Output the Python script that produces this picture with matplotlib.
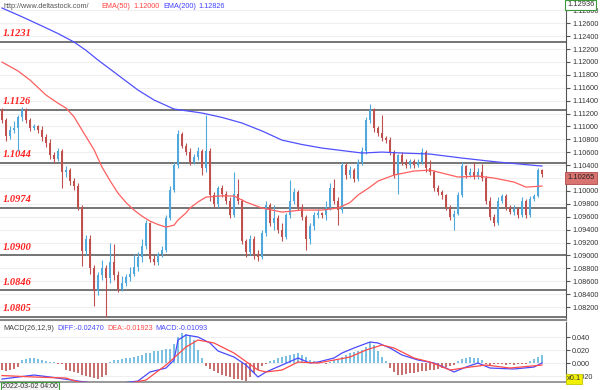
import matplotlib
matplotlib.use("Agg")
import matplotlib.pyplot as plt
import numpy as np

plt.rcParams["font.family"] = ["Liberation Sans", "DejaVu Sans"]

# EURUSD-ish 1H candles (open = previous close)
first_open = 1.1125
closes = [
    1.1110, 1.1085, 1.1095, 1.1098, 1.1115, 1.1125, 1.1110, 1.1098, 1.1100, 1.1095,
    1.1083, 1.1075, 1.1055, 1.1050, 1.1062, 1.1030, 1.1032, 1.1015, 1.1008, 1.0975,
    1.0907, 1.0925, 1.0880, 1.0845, 1.0870, 1.0880, 1.0865, 1.0890, 1.0870, 1.0848,
    1.0858, 1.0866, 1.0872, 1.0882, 1.0897, 1.0915, 1.0950, 1.0895, 1.0890, 1.0902,
    1.0908, 1.0958, 1.1002, 1.1040, 1.1088, 1.1070, 1.1060, 1.1045, 1.1052, 1.1062,
    1.1035, 1.1062, 1.0993, 1.0980, 1.1005, 1.0995, 1.0985, 1.0963, 1.0995, 1.0985,
    1.0922, 1.0905, 1.0925, 1.0900, 1.0898, 1.0935, 1.0978, 1.0950, 1.0958, 1.0940,
    1.0928, 1.0962, 1.0985, 1.0998, 1.0975, 1.0960, 1.0925, 1.0945, 1.0962, 1.0966,
    1.0963, 1.0975, 1.1005, 1.0985, 1.0970, 1.1040, 1.1025, 1.1032, 1.1018, 1.1045,
    1.1062, 1.1110, 1.1126, 1.1097, 1.1090, 1.1082, 1.1079, 1.1060, 1.1025, 1.1055,
    1.1045, 1.1040, 1.1046, 1.1040, 1.1045, 1.1060, 1.1035, 1.1030, 1.1005, 1.0998,
    1.0993, 1.0975, 1.0960, 1.0965, 1.0993, 1.1038, 1.1025, 1.1030, 1.1022, 1.1030,
    1.1020, 1.0985, 1.0960, 1.0950, 1.0985, 1.0992, 1.0975, 1.0968, 1.0972, 1.0963,
    1.0985, 1.0962, 1.0987, 1.0992, 1.1032, 1.10265,
]
highs = [
    1.1128, 1.1113, 1.1100, 1.1108, 1.1118, 1.1130, 1.1128, 1.1113, 1.1104, 1.1103,
    1.1100, 1.1088, 1.1080, 1.1060, 1.1066, 1.1065, 1.1038, 1.1035, 1.1020, 1.1012,
    1.0978, 1.0932, 1.0932, 1.0885, 1.0875, 1.0893, 1.0886, 1.0920, 1.0918, 1.0876,
    1.0868, 1.0872, 1.0882, 1.0902, 1.0905, 1.0925, 1.0955, 1.0952, 1.0900, 1.0906,
    1.0915, 1.0962, 1.1008, 1.1045, 1.1095, 1.1092, 1.1075, 1.1066, 1.1058, 1.1068,
    1.1065, 1.1118, 1.1066, 1.0998, 1.1008, 1.1010, 1.1000, 1.0990, 1.1030, 1.1018,
    1.0988, 1.0926, 1.0932, 1.0930, 1.0908, 1.0940, 1.0985, 1.0982, 1.0978, 1.0962,
    1.0950, 1.0966, 1.1017, 1.1005, 1.1002, 1.0980, 1.0963, 1.0950, 1.0968, 1.0972,
    1.0968, 1.0985, 1.1012, 1.1018, 1.0990, 1.1045, 1.1044, 1.1038, 1.1036, 1.1050,
    1.1068, 1.1115, 1.1135, 1.1128, 1.1100, 1.1117, 1.1085, 1.1083, 1.1063, 1.1058,
    1.1060, 1.1050, 1.1050, 1.1049, 1.1050, 1.1066, 1.1063, 1.1048, 1.1033, 1.1010,
    1.1002, 1.0996, 1.0978, 1.0970, 1.0998, 1.1045, 1.1040, 1.1035, 1.1045, 1.1035,
    1.1042, 1.1023, 1.0990, 1.0965, 1.0990, 1.0996, 1.0995, 1.0978, 1.0978, 1.0975,
    1.0990, 1.0988, 1.0992, 1.0996, 1.1036, 1.1034,
]
lows = [
    1.1106, 1.1078, 1.1080, 1.1090, 1.1062, 1.1108, 1.1105, 1.1093, 1.1094, 1.1090,
    1.1078, 1.1068, 1.1050, 1.1043, 1.1047, 1.1005, 1.1022, 1.1010, 1.1002, 1.0970,
    1.0883, 1.0900, 1.0872, 1.0822, 1.0838, 1.0862, 1.0805, 1.0858, 1.0862, 1.0844,
    1.0845, 1.0852, 1.0860, 1.0868, 1.0876, 1.0890, 1.0910, 1.0890, 1.0885, 1.0886,
    1.0898, 1.0905, 1.0955, 1.0998, 1.1036, 1.1066, 1.1055, 1.1040, 1.1042, 1.1048,
    1.1025, 1.1030, 1.0985, 1.0975, 1.0975, 1.0990, 1.0980, 1.0958, 1.0960, 1.0980,
    1.0918, 1.0898, 1.0900, 1.0895, 1.0892, 1.0895, 1.0930, 1.0945, 1.0940, 1.0935,
    1.0922, 1.0925, 1.0958, 1.0980, 1.0970, 1.0955, 1.0908, 1.0918, 1.0940, 1.0958,
    1.0958, 1.0955, 1.0970, 1.0980, 1.0948, 1.0966, 1.1018, 1.1020, 1.1014, 1.1015,
    1.1040, 1.1058, 1.1105, 1.1092, 1.1085, 1.1078, 1.1075, 1.1055, 1.1020, 1.0995,
    1.1040, 1.1035, 1.1036, 1.1036, 1.1037, 1.1042, 1.1030, 1.1025, 1.1000, 1.0994,
    1.0988, 1.0970, 1.0955, 1.0940, 1.0962, 1.0990, 1.1020, 1.1022, 1.1018, 1.1018,
    1.1015, 1.0980, 1.0955, 1.0946, 1.0948, 1.0982, 1.0970, 1.0964, 1.0962, 1.0958,
    1.0960, 1.0958, 1.0960, 1.0984, 1.0990, 1.1022,
]
opens = [first_open] + closes[:-1]

# moving averages, read at a few candles
ema50_idx = [0, 4, 7, 11, 14, 16, 18, 20, 23, 25, 27, 29, 31, 33, 35, 37, 39, 41, 43,
             44, 46, 47, 49, 51, 55, 58, 61, 65, 70, 75, 80, 84, 87, 89, 92, 94, 98, 103,
             107, 110, 114, 119, 123, 128, 131, 135]
ema50_val = [1.11998, 1.11860, 1.11719, 1.11487, 1.11360, 1.11285, 1.11150, 1.10944,
             1.10640, 1.10371, 1.10160, 1.09967, 1.09820, 1.09704, 1.09610, 1.09533,
             1.09480, 1.09440, 1.09470, 1.09549, 1.09660, 1.09735, 1.09830, 1.09905,
             1.09925, 1.09921, 1.09828, 1.09735, 1.09673, 1.09704, 1.09704, 1.09735,
             1.09820, 1.09936, 1.10060, 1.10153, 1.10247, 1.10309, 1.10324, 1.10278,
             1.10216, 1.10231, 1.10200, 1.10138, 1.10060, 1.10076]
ema200_idx = [0, 5, 10, 14, 18, 21, 24, 27, 30, 34, 38, 43, 50, 55, 60, 65, 70, 75,
              80, 90, 95, 100, 107, 115, 124, 135]
ema200_val = [1.12836, 1.12700, 1.12557, 1.12440, 1.12309, 1.12180, 1.12029, 1.11890,
              1.11750, 1.11564, 1.11410, 1.11270, 1.11208, 1.11140, 1.11053, 1.10930,
              1.10788, 1.10720, 1.10665, 1.10588, 1.10603, 1.10588, 1.10572, 1.10510,
              1.10448, 1.10386]

levels = [1.1231, 1.1126, 1.1044, 1.0974, 1.0900, 1.0846, 1.0805]
last_price = 1.10265

# MACD(26,12,9)
diff_idx = [0, 8, 12, 19, 26, 34, 37, 41, 43, 44, 46, 49, 52, 54, 58, 61, 64, 66, 70,
            74, 77, 79, 83, 85, 88, 92, 94, 97, 100, 104, 108, 111, 113, 116, 119, 122,
            128, 133, 135]
diff_val = [-0.0247, -0.0185, -0.0215, -0.0277, -0.0340, -0.0277, -0.0138, -0.0077,
            0.0046, 0.0354, 0.0431, 0.0400, 0.0308, 0.0185, 0.0092, -0.0031, -0.0215,
            -0.0138, -0.0031, 0.0077, 0.0000, 0.0015, 0.0077, 0.0154, 0.0231, 0.0323,
            0.0308, 0.0231, 0.0123, 0.0046, 0.0000, -0.0077, -0.0138, -0.0062, 0.0000,
            -0.0077, -0.0092, -0.0062, 0.0000]
dea_idx = [0, 8, 16, 19, 30, 36, 41, 46, 49, 53, 58, 64, 66, 70, 74, 79, 87, 91, 95,
           98, 103, 107, 112, 117, 121, 127, 135]
dea_val = [-0.01923, -0.0215, -0.0231, -0.0292, -0.0330, -0.0262, -0.0031, 0.0246,
           0.0354, 0.0308, 0.0154, -0.0108, -0.0138, -0.0108, 0.0015, 0.0000, 0.0092,
           0.0200, 0.0277, 0.0231, 0.0077, 0.0015, -0.0108, -0.0062, -0.0031, -0.0077,
           -0.0031]
hist = [
    -0.011, -0.012, -0.011, -0.009, -0.006,
    0.004, 0.006, 0.007, 0.007, 0.006, 0.005,
    0.003, 0.002, 0.001, -0.001, -0.002,
    -0.010, -0.012, -0.014, -0.016, -0.018, -0.020, -0.022, -0.023, -0.024, -0.022, -0.018,
    0.002, 0.004, 0.005, 0.006, 0.007, 0.008, 0.009,
    0.011, 0.013, 0.015, 0.016, 0.018, 0.019, 0.020, 0.021, 0.022,
    0.030, 0.040, 0.046, 0.045, 0.042, 0.035,
    0.020, 0.008,
    -0.004, -0.009, -0.013, -0.016, -0.018, -0.020, -0.022, -0.024, -0.025, -0.026, -0.027,
    -0.022, -0.016, -0.010, -0.005,
    -0.001,
    0.003, 0.005, 0.007, 0.009, 0.011, 0.013, 0.014, 0.015,
    0.012, 0.009, 0.005, 0.003,
    0.001, 0.000, -0.001, 0.001,
    0.004, 0.006, 0.010, 0.013, 0.015, 0.017, 0.018, 0.020, 0.025, 0.032, 0.027, 0.018,
    0.010, 0.003,
    -0.008, -0.014, -0.019, -0.018, -0.017, -0.016,
    -0.015, -0.014, -0.013, -0.012, -0.011, -0.010, -0.009, -0.008, -0.006, -0.005, -0.003,
    0.003, 0.006, 0.008, 0.009, 0.008, 0.007, 0.004,
    -0.002, -0.003,
    -0.001,
    -0.002, -0.002, -0.003, -0.002, -0.003, -0.002, -0.001, -0.001,
    0.003, 0.006, 0.009, 0.012,
]

price_ticks = np.arange(1.082, 1.1285, 0.002)
macd_ticks = [0.04, 0.02, 0.0, -0.02]

W, H = 600, 390
fig = plt.figure(figsize=(6, 3.9), dpi=100)
fig.patch.set_facecolor("white")
ax = fig.add_axes([0, 1 - 320 / H, 566 / W, 320 / H])
ax2 = fig.add_axes([0, 1 - 382 / H, 566 / W, 60 / H])

x = np.arange(len(closes))
up_col, dn_col, doji_col = "#4fa9dc", "#c0504d", "#55a055"
cols = []
for o, c in zip(opens, closes):
    if c > o:
        cols.append(up_col)
    elif c < o:
        cols.append(dn_col)
    else:
        cols.append(doji_col)

# grid + levels
ax.set_yticks(price_ticks)
ax.grid(axis="y", color="#efefef", lw=0.8)
for lv in levels:
    ax.axhline(lv, color="#6a6a6a", lw=1.3, zorder=2)
    ax.annotate(f"{lv:.4f}", xy=(0, lv), xycoords=ax.get_yaxis_transform(),
                xytext=(2, 2.5), textcoords="offset points", color="#ff2020",
                fontsize=7.5, fontweight="bold", fontstyle="italic",
                family="Liberation Serif", va="bottom", ha="left")

ax.vlines(x, lows, highs, colors=cols, lw=0.8, zorder=3)
bodies = [max(abs(c - o), 0.00006) for o, c in zip(opens, closes)]
ax.bar(x, bodies, bottom=np.minimum(opens, closes), width=0.7, color=cols, zorder=4)

ax.plot(ema50_idx, ema50_val, color="#ff5f5f", lw=0.9, zorder=5)
ax.plot(ema200_idx, ema200_val, color="#5050ff", lw=0.9, zorder=5)

ax.set_xlim(-0.5, 141)
ax.set_ylim(1.0800, 1.1296)
ax.set_xticks([])
ax.yaxis.tick_right()
# the label under the last-price box is hidden, as in the original
ax.set_yticklabels(["" if abs(t - last_price) < 0.001 else f"{t:.5f}" for t in price_ticks])
ax.tick_params(axis="y", direction="out", length=3, pad=1.5, labelsize=5.2,
               colors="#555555", labelcolor="#333333")
for s in ["top", "left"]:
    ax.spines[s].set_visible(False)
ax.spines["right"].set_color("#555555")
ax.spines["bottom"].set_color("#888888")
ax.spines["bottom"].set_linewidth(1.5)

# current price / top price boxes (figure texts sit above the axes)
fig.text(567 / W, 1 - 178 / H, f"{last_price:.5f}", fontsize=5.4, va="center", ha="left",
         color="#222222", zorder=10,
         bbox=dict(facecolor="#d9736f", edgecolor="#b04a4a", pad=1.6, lw=0.6))
fig.text(567 / W, 1 - 5 / H, "1.12936", fontsize=5.4, va="center", ha="left",
         color="#333333", zorder=10,
         bbox=dict(facecolor="white", edgecolor="#3a9a3a", pad=1.4, lw=0.8))

# header
hy = 1 - 6 / H
fig.text(3 / W, hy, "http://www.deltastock.com/", fontsize=5.2, color="#555555", va="center")
fig.text(101 / W, hy, "EMA(50)", fontsize=5.2, color="#ff4040", va="center")
fig.text(133 / W, hy, "1.12000", fontsize=5.2, color="#ff4040", va="center")
fig.text(163 / W, hy, "EMA(200)", fontsize=5.2, color="#4040ff", va="center")
fig.text(198 / W, hy, "1.12826", fontsize=5.2, color="#4040ff", va="center")

# MACD panel
hcols = ["#7cc0e2" if v >= 0 else "#c87070" for v in hist]
ax2.set_yticks(macd_ticks)
ax2.grid(axis="y", color="#efefef", lw=0.8)
ax2.bar(x, hist, width=0.35, color=hcols, zorder=3)
ax2.plot(diff_idx, diff_val, color="#4a4aff", lw=0.9, zorder=4)
ax2.plot(dea_idx, dea_val, color="#ff4a4a", lw=0.9, zorder=4)
ax2.set_xlim(-0.5, 141)
ax2.set_ylim(-0.0292, 0.0631)
ax2.set_xticks([])
ax2.yaxis.tick_right()
ax2.set_yticklabels([f"{t:.3f}" for t in macd_ticks])
ax2.tick_params(axis="y", direction="out", length=3, pad=1.5, labelsize=5.2,
                colors="#555555", labelcolor="#333333")
for s in ["top", "left"]:
    ax2.spines[s].set_visible(False)
ax2.spines["right"].set_color("#555555")
ax2.spines["bottom"].set_color("#888888")
ax2.spines["bottom"].set_linewidth(1.2)

my = 1 - 329 / H
fig.text(3 / W, my, "MACD(26,12,9)", fontsize=5.2, color="#444444", va="center")
fig.text(57 / W, my, "DIFF:-0.02470", fontsize=5.2, color="#4a4aff", va="center")
fig.text(107 / W, my, "DEA:-0.01923", fontsize=5.2, color="#ff4a4a", va="center")
fig.text(155 / W, my, "MACD:-0.01093", fontsize=5.2, color="#4a4aff", va="center")

fig.text(567 / W, 1 - 379 / H, "x0.1", fontsize=5.4, va="center", ha="left", color="#333333",
         zorder=10, bbox=dict(facecolor="#f0f000", edgecolor="#c8c800", pad=0.8, lw=0.6))
fig.text(2 / W, 1 - 386.5 / H, "2022-03-02 04:00", fontsize=5, va="center", ha="left",
         color="#333333", bbox=dict(facecolor="#f4f4f4", edgecolor="#3a9a3a", pad=0.8, lw=0.8))

fig.savefig("out.png", dpi=100)
